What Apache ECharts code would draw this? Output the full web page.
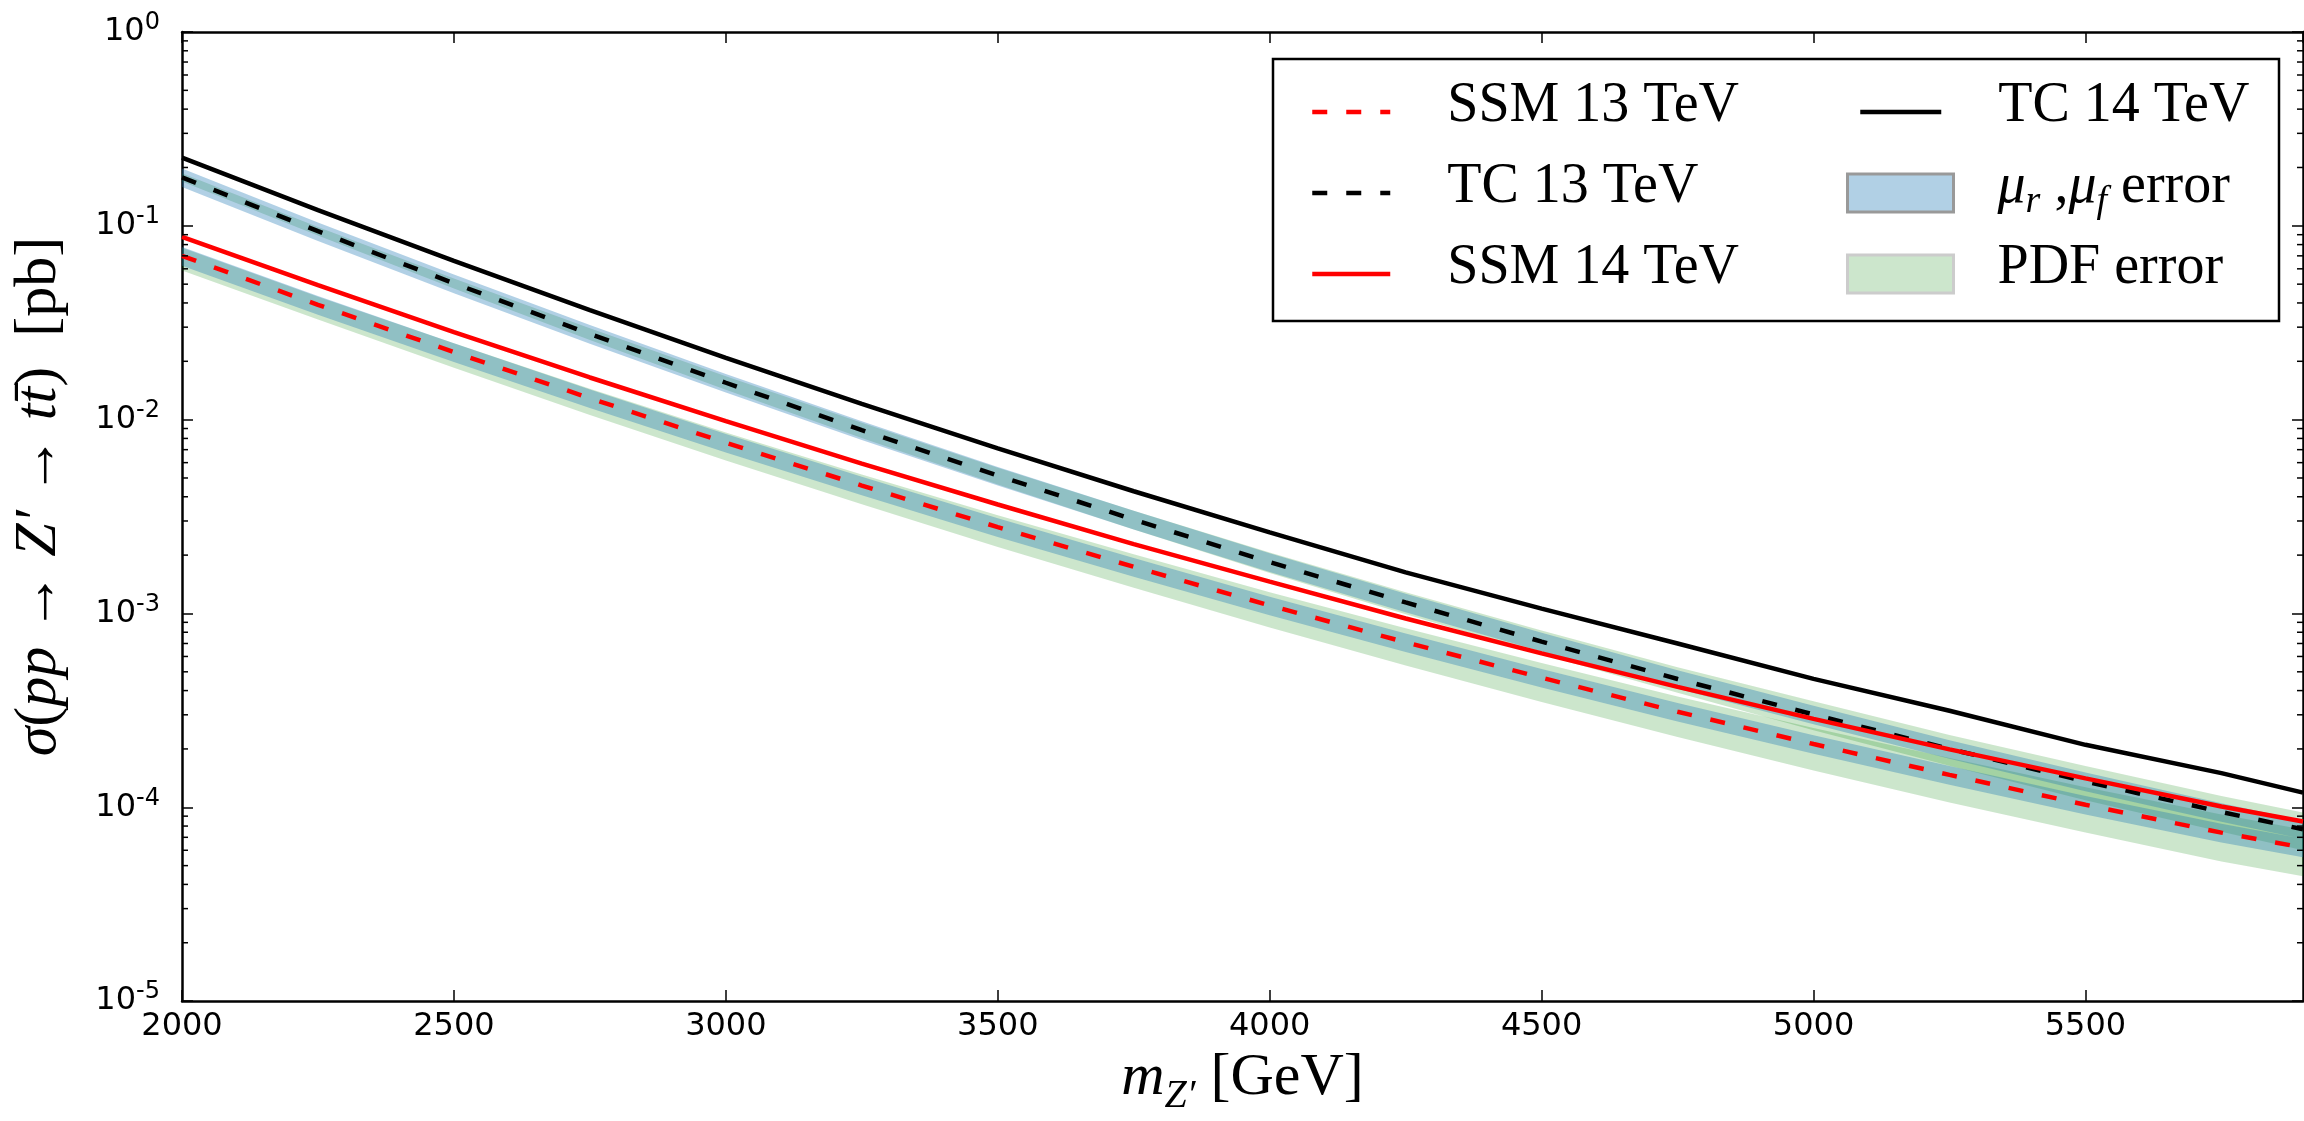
<!DOCTYPE html>
<html><head><meta charset="utf-8">
<script src="https://cdn.jsdelivr.net/npm/echarts@6/dist/echarts.min.js"></script>
<style>html,body{margin:0;padding:0;background:#fff}#c{width:2304px;height:1121px}</style>
</head><body><div id="c"></div>
<script>
// ---- data (cross sections in pb) ----
const masses = [2000, 2250, 2500, 2750, 3000, 3250, 3500, 3750, 4000, 4250, 4500, 4750, 5000, 5250, 5500, 5750, 5900];
const tc14  = [0.225, 0.1205, 0.0659, 0.0367, 0.0208, 0.01205, 0.0071, 0.00427, 0.00262, 0.00163, 0.00106, 7.0e-4, 4.6e-4, 3.15e-4, 2.1e-4, 1.5e-4, 1.19e-4];
const tc13  = [0.178, 0.0938, 0.0505, 0.0277, 0.0155, 0.00883, 0.00514, 0.00305, 0.00184, 0.00114, 7.16e-4, 4.59e-4, 3.01e-4, 2.0e-4, 1.36e-4, 9.46e-5, 7.7e-5];
const ssm14 = [0.0877, 0.0494, 0.0283, 0.0165, 0.00982, 0.00593, 0.00365, 0.00228, 0.00146, 9.42e-4, 6.22e-4, 4.18e-4, 2.86e-4, 1.99e-4, 1.41e-4, 1.01e-4, 8.45e-5];
const ssm13 = [0.070, 0.0391, 0.0223, 0.0129, 0.0076, 0.00457, 0.00279, 0.00174, 0.0011, 7.1e-4, 4.66e-4, 3.11e-4, 2.12e-4, 1.47e-4, 1.03e-4, 7.4e-5, 6.2e-5];
// relative uncertainties of the 13 TeV predictions (fractions)
const tcScaleErr   = [0.11, 0.11, 0.11, 0.11, 0.11, 0.11, 0.11, 0.11, 0.11, 0.11, 0.11, 0.11, 0.11, 0.11, 0.11, 0.11, 0.11];
const tcPdfUp      = [0.05, 0.05, 0.06, 0.07, 0.08, 0.09, 0.10, 0.11, 0.12, 0.13, 0.14, 0.15, 0.17, 0.18, 0.20, 0.21, 0.22];
const tcPdfDown    = [0.05, 0.05, 0.06, 0.07, 0.08, 0.09, 0.10, 0.11, 0.12, 0.13, 0.14, 0.15, 0.17, 0.18, 0.20, 0.21, 0.22];
const ssmScaleErr  = [0.11, 0.11, 0.11, 0.11, 0.11, 0.11, 0.11, 0.11, 0.11, 0.11, 0.11, 0.11, 0.11, 0.11, 0.11, 0.11, 0.11];
const ssmPdfUp     = [0.10, 0.10, 0.11, 0.12, 0.13, 0.14, 0.15, 0.16, 0.17, 0.18, 0.19, 0.20, 0.21, 0.22, 0.23, 0.24, 0.24];
const ssmPdfDown   = [0.16, 0.16, 0.17, 0.18, 0.19, 0.20, 0.21, 0.22, 0.23, 0.24, 0.25, 0.26, 0.27, 0.28, 0.28, 0.29, 0.29];
// axis settings
const xMin = 2000, xMax = 5900, xStep = 500;
const yMin = 1e-5, yMax = 1;
const minorTickValues = [];
for (let e = -5; e < 0; e++) for (let k = 2; k <= 9; k++) minorTickValues.push(k * Math.pow(10, e));

const SERIF = "'Liberation Serif','DejaVu Serif',serif";
const SANS = "'DejaVu Sans',sans-serif";

function pairs(arr) { return masses.map((m, i) => [m, arr[i]]); }
function band(central, up, down) {
  return masses.map((m, i) => [m, central[i] * (1 - down[i]), central[i] * (1 + up[i])]);
}
function bandSeries(name, rows, color, z) {
  return {
    type: 'custom', name: name, coordinateSystem: 'cartesian2d', clip: true, z: z,
    itemStyle: { color: color },
    data: rows,
    encode: { x: 0, y: [1, 2] },
    renderItem: function (params, api) {
      if (params.dataIndex !== 0) return null;
      const top = rows.map(r => api.coord([r[0], r[2]]));
      const bot = rows.map(r => api.coord([r[0], r[1]])).reverse();
      return { type: 'polygon', shape: { points: top.concat(bot) }, style: { fill: color, stroke: null } };
    }
  };
}
const BLUE = 'rgba(31,119,180,0.35)';
const GREEN = 'rgba(0,128,0,0.2)';
const LW = 4.5;

const chart = echarts.init(document.getElementById('c'), null, { renderer: 'canvas' });
const supRich = {
  b: { fontSize: 32, fontFamily: SANS, color: '#000', lineHeight: 32, verticalAlign: 'bottom' },
  s: { fontSize: 24, fontFamily: SANS, color: '#000', lineHeight: 24, padding: [0, 0, 13, 0], verticalAlign: 'bottom' }
};
const mathRich = {
  i: { fontFamily: SERIF, fontStyle: 'italic', fontSize: 60, color: '#000', lineHeight: 64, verticalAlign: 'bottom', padding: [0, 0, 8, 0] },
  r: { fontFamily: SERIF, fontSize: 60, color: '#000', lineHeight: 64, verticalAlign: 'bottom', padding: [0, 0, 8, 0] },
  sub: { fontFamily: SERIF, fontStyle: 'italic', fontSize: 40, color: '#000', lineHeight: 44, verticalAlign: 'bottom' }
};
const legRich = {
  r: { fontFamily: SERIF, fontSize: 56, color: '#000', lineHeight: 56, verticalAlign: 'bottom', padding: [0, 0, 6, 0] },
  i: { fontFamily: SERIF, fontStyle: 'italic', fontSize: 56, color: '#000', lineHeight: 56, verticalAlign: 'bottom', padding: [0, 0, 6, 0] },
  sub: { fontFamily: SERIF, fontStyle: 'italic', fontSize: 38, color: '#000', lineHeight: 40, verticalAlign: 'bottom' }
};
const legendLabel = {
  'SSM 13 TeV': '{r|SSM 13 TeV}', 'TC 13 TeV': '{r|TC 13 TeV}', 'SSM 14 TeV': '{r|SSM 14 TeV}',
  'TC 14 TeV': '{r|TC 14 TeV}', 'mu error': '{i|μ}{sub|r}{r| ,}{i|μ}{sub|f}{r| error}', 'PDF error': '{r|PDF error}'
};
const noSym = { opacity: 0 };
const legLine = { width: LW };

const option = {
  animation: false,
  backgroundColor: '#fff',
  grid: { left: 182, top: 32, width: 2121, height: 973, show: false },
  xAxis: [{
    type: 'value', min: xMin, max: xMax, interval: xStep, position: 'bottom',
    axisLine: { show: true, onZero: false, lineStyle: { color: '#000', width: 2.5 } },
    axisTick: { show: true, inside: true, length: 11, lineStyle: { color: '#000', width: 1.5 } },
    axisLabel: { fontFamily: SANS, fontSize: 32, color: '#000', margin: 10, showMaxLabel: false, formatter: v => String(v) },
    splitLine: { show: false },
    name: '{i|m}{sub|Z′}{r| [GeV]}', nameLocation: 'middle', nameGap: 50,
    nameTextStyle: { rich: mathRich }
  }, {
    type: 'value', min: xMin, max: xMax, interval: xStep, position: 'top',
    axisLine: { show: true, onZero: false, lineStyle: { color: '#000', width: 2.5 } },
    axisTick: { show: true, inside: true, length: 11, lineStyle: { color: '#000', width: 1.5 } },
    axisLabel: { show: false }, splitLine: { show: false }
  }],
  yAxis: [{
    type: 'log', logBase: 10, min: yMin, max: yMax, position: 'left',
    axisLine: { show: true, onZero: false, lineStyle: { color: '#000', width: 2.5 } },
    axisTick: { show: true, inside: true, length: 11, lineStyle: { color: '#000', width: 1.5 } },
    axisLabel: {
      margin: 22,
      formatter: v => '{b|10}{s|' + Math.round(Math.log10(v)) + '}',
      rich: supRich
    },
    splitLine: { show: false },
    name: '{i|σ}{r|(}{i|pp}{r| → }{i|Z′}{r| → }{i|tt̄}{r|)  [pb]}',
    nameLocation: 'middle', nameRotate: 90, nameGap: 105,
    nameTextStyle: { rich: mathRich, padding: [0, 0, 0, 40] }
  }, {
    type: 'log', logBase: 10, min: yMin, max: yMax, position: 'right',
    axisLine: { show: true, onZero: false, lineStyle: { color: '#000', width: 2.5 } },
    axisTick: { show: true, inside: true, length: 11, lineStyle: { color: '#000', width: 1.5 } },
    axisLabel: { show: false }, splitLine: { show: false }
  }],
  legend: [{
    left: 1310, top: 78, orient: 'vertical', itemWidth: 78, itemHeight: 38, itemGap: 19, padding: 0,
    lineStyle: legLine,
    data: [{ name: 'SSM 13 TeV', itemStyle: noSym, lineStyle: legLine }, { name: 'TC 13 TeV', itemStyle: noSym, lineStyle: legLine }, { name: 'SSM 14 TeV', itemStyle: noSym, lineStyle: legLine }],
    formatter: n => legendLabel[n],
    textStyle: { padding: [0, 0, 0, 52], rich: legRich }
  }, {
    left: 1858, top: 78, orient: 'vertical', itemWidth: 81, itemHeight: 38, itemGap: 19, padding: 0,
    lineStyle: legLine,
    data: [{ name: 'TC 14 TeV', itemStyle: noSym, lineStyle: legLine }],
    formatter: n => legendLabel[n],
    textStyle: { padding: [0, 0, 0, 52], rich: legRich }
  }, {
    left: 1846, top: 159, orient: 'vertical', itemWidth: 106, itemHeight: 38, itemGap: 19, padding: 0,
    data: [
      { name: 'mu error', icon: 'rect', itemStyle: { color: BLUE, borderColor: '#999', borderWidth: 3 } },
      { name: 'PDF error', icon: 'rect', itemStyle: { color: GREEN, borderColor: '#ccc', borderWidth: 3 } }],
    formatter: n => legendLabel[n],
    textStyle: { padding: [0, 0, 0, 39], rich: legRich }
  }],
  graphic: [{
    type: 'rect', z: 3, shape: { x: 1273, y: 59, width: 1006, height: 262 },
    style: { fill: '#fff', stroke: '#000', lineWidth: 2.5 }
  }],
  series: [
    bandSeries('PDF error', band(tc13, tcPdfUp, tcPdfDown), GREEN, 1),
    bandSeries('PDF error', band(ssm13, ssmPdfUp, ssmPdfDown), GREEN, 1),
    bandSeries('mu error', band(tc13, tcScaleErr, tcScaleErr), BLUE, 1.5),
    bandSeries('mu error', band(ssm13, ssmScaleErr, ssmScaleErr), BLUE, 1.5),
    { type: 'line', name: 'SSM 13 TeV', data: pairs(ssm13), showSymbol: false, symbol: 'none', z: 3,
      lineStyle: { color: '#ff0000', width: LW, type: [15, 19] }, itemStyle: { color: '#ff0000' } },
    { type: 'line', name: 'TC 13 TeV', data: pairs(tc13), showSymbol: false, symbol: 'none', z: 3,
      lineStyle: { color: '#000', width: LW, type: [15, 19] }, itemStyle: { color: '#000' } },
    { type: 'line', name: 'SSM 14 TeV', data: pairs(ssm14), showSymbol: false, symbol: 'none', z: 3,
      lineStyle: { color: '#ff0000', width: LW }, itemStyle: { color: '#ff0000' } },
    { type: 'line', name: 'TC 14 TeV', data: pairs(tc14), showSymbol: false, symbol: 'none', z: 3,
      lineStyle: { color: '#000', width: LW }, itemStyle: { color: '#000' } },
    { type: 'custom', name: 'minor ticks', coordinateSystem: 'cartesian2d', clip: false, silent: true, z: 5,
      data: minorTickValues.map(v => [xMin, v]),
      renderItem: function (params, api) {
        const v = api.value(1);
        const l = api.coord([xMin, v]), r = api.coord([xMax, v]);
        const st = { stroke: '#000', lineWidth: 1.5 };
        return { type: 'group', children: [
          { type: 'line', shape: { x1: l[0], y1: l[1], x2: l[0] + 6, y2: l[1] }, style: st },
          { type: 'line', shape: { x1: r[0], y1: r[1], x2: r[0] - 6, y2: r[1] }, style: st }
        ] };
      }
    }
  ]
};
chart.setOption(option);
</script></body></html>
